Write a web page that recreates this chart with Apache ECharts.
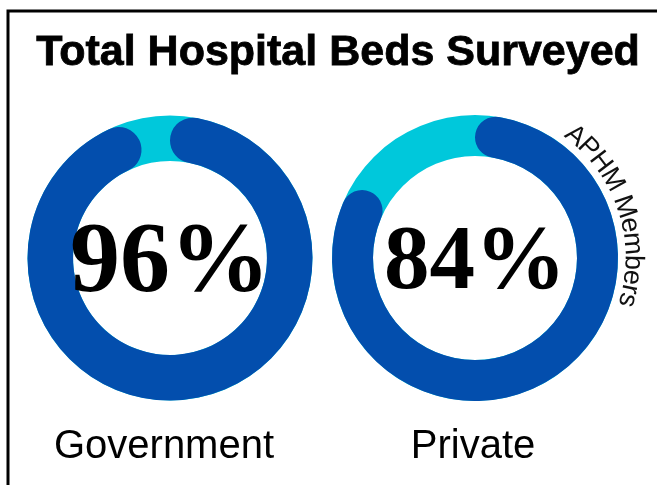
<!DOCTYPE html>
<html><head><meta charset="utf-8">
<script src="https://cdn.jsdelivr.net/npm/echarts@6/dist/echarts.min.js"></script>
<style>html,body{margin:0;padding:0;background:#fff}#c{width:657px;height:485px}</style>
</head><body><div id="c"></div>
<script>
const chartTitle = 'Total Hospital Beds Surveyed';
const categories = ['Government', 'Private'];
const shares = [96, 84];
const arcLabel = 'APHM Members';

const BLUE = '#034EAD', CYAN = '#00C8DB';
const layout = [
  {center: [170, 258], radius: [97, 142.5], fontSize: 100, labelX: 164},
  {center: [475, 258], radius: [102, 143], fontSize: 91, labelX: 473}
];

const series = [];
categories.forEach((cat, i) => {
  const L = layout[i];
  const half = (L.radius[1] - L.radius[0]) / 2;
  series.push({
    type: 'pie', name: cat + ' track', center: L.center, radius: L.radius,
    silent: true, animation: false, emphasis: {disabled: true},
    label: {show: false}, labelLine: {show: false},
    itemStyle: {color: CYAN, borderWidth: 0},
    data: [{name: cat, value: 100}]
  });
  series.push({
    type: 'pie', name: cat, center: L.center, radius: L.radius,
    startAngle: 90, clockwise: true, silent: true, animation: false,
    emphasis: {disabled: true}, labelLine: {show: false},
    data: [
      {name: cat, value: shares[i],
       itemStyle: {color: BLUE, borderRadius: half, borderWidth: 0},
       label: {show: true, position: 'center', formatter: '{c}%',
               fontFamily: 'Liberation Serif', fontWeight: 'bold',
               fontSize: L.fontSize, color: '#000', offset: [0, 6]}},
      {name: 'rest', value: 100 - shares[i],
       itemStyle: {color: 'rgba(0,0,0,0)', borderWidth: 0},
       label: {show: false}}
    ]
  });
});

function arcText(str, cx, cy, r, midDeg, fontSize, family, spacing) {
  const ctx = document.createElement('canvas').getContext('2d');
  ctx.font = fontSize + 'px ' + family;
  const chars = Array.from(str);
  const w = chars.map(ch => ctx.measureText(ch).width);
  const total = w.reduce((a, b) => a + b, 0) + spacing * (chars.length - 1);
  const start = midDeg * Math.PI / 180 - total / 2 / r;
  let acc = 0;
  return chars.map((ch, i) => {
    const a = start + (acc + w[i] / 2) / r;
    acc += w[i] + spacing;
    return {
      type: 'text', x: cx + r * Math.sin(a), y: cy - r * Math.cos(a), rotation: -a,
      style: {text: ch, fontSize: fontSize, fontFamily: family, fill: '#111',
              align: 'center', verticalAlign: 'middle'}
    };
  });
}

const graphic = [
  {type: 'rect', shape: {x: 8, y: 11, width: 700, height: 520},
   style: {fill: 'none', stroke: '#000', lineWidth: 3}},
  {type: 'text', x: 338, y: 53,
   style: {text: chartTitle, fontFamily: 'Liberation Sans', fontWeight: 'bold',
           fontSize: 43, fill: '#000', stroke: '#000', lineWidth: 0.8,
           align: 'center', verticalAlign: 'middle'}}
];
categories.forEach((cat, i) => {
  graphic.push({type: 'text', x: layout[i].labelX, y: 447,
    style: {text: cat, fontFamily: 'Liberation Sans',
            fontSize: 40, fill: '#000', align: 'center', verticalAlign: 'middle'}});
});
arcText(arcLabel, 475, 258, 158, 72, 27, 'Liberation Sans', 0).forEach(e => graphic.push(e));

const chart = echarts.init(document.getElementById('c'));
chart.setOption({backgroundColor: '#fff', animation: false, series: series, graphic: graphic});
</script></body></html>
